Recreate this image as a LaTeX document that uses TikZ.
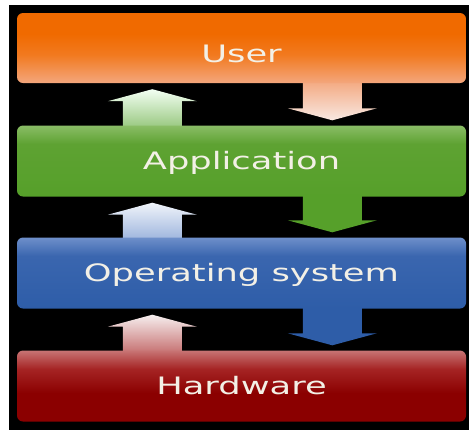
\documentclass[tikz,border=0pt]{standalone}
\usepackage{fontspec}
\setmainfont{DejaVu Sans}
\usetikzlibrary{calc}
\pgfdeclarelayer{bg}
\pgfsetlayers{bg,main}

\definecolor{uT}{HTML}{F06A00}
\definecolor{uM}{HTML}{F27A20}
\definecolor{uB}{HTML}{F3A67C}
\definecolor{aT}{HTML}{8ABD66}
\definecolor{aM}{HTML}{5EA232}
\definecolor{aB}{HTML}{56A02A}
\definecolor{oT}{HTML}{6E8FCA}
\definecolor{oM}{HTML}{3A66AF}
\definecolor{oB}{HTML}{2E5DA8}
\definecolor{hT}{HTML}{C87474}
\definecolor{hM}{HTML}{A52424}
\definecolor{hB}{HTML}{8B0000}
\definecolor{textc}{HTML}{F3F0E6}

\pgfdeclareverticalshading{usershade}{100bp}{color(0bp)=(uB); color(25bp)=(uB); color(45bp)=(uM); color(60bp)=(uT); color(100bp)=(uT)}
\pgfdeclareverticalshading{appshade}{100bp}{color(0bp)=(aB); color(25bp)=(aB); color(62bp)=(aM); color(75bp)=(aT); color(100bp)=(aT)}
\pgfdeclareverticalshading{osshade}{100bp}{color(0bp)=(oB); color(25bp)=(oB); color(62bp)=(oM); color(75bp)=(oT); color(100bp)=(oT)}
\pgfdeclareverticalshading{hwshade}{100bp}{color(0bp)=(hB); color(25bp)=(hB); color(45bp)=(hB); color(62bp)=(hM); color(75bp)=(hT); color(100bp)=(hT)}

\tikzset{
  layerbox/.style={rectangle, rounded corners=6pt, minimum width=449pt,
    minimum height=71pt, inner sep=0pt, text=textc,
    font=\fontsize{24}{24}\selectfont, text height=17.5pt, text depth=0pt},
}

% up arrow from lower box #2 into upper box #1
\newcommand\uparr[3]{%
  \path[#3] ($(#2.north west)+(106,4)$) -- ($(#1.south west)+(106,18)$)
    -- ($(#1.south west)+(91,18)$) -- ($(#1.south west)+(135.5,6)$)
    -- ($(#1.south west)+(180,18)$) -- ($(#1.south west)+(165,18)$)
    -- ($(#2.north west)+(165,4)$) -- cycle;}
% down arrow from upper box #1 towards lower box #2
\newcommand\dnarr[3]{%
  \path[#3] ($(#1.south west)+(286,-4)$) -- ($(#2.north west)+(286,-17)$)
    -- ($(#2.north west)+(271,-17)$) -- ($(#2.north west)+(315.5,-5)$)
    -- ($(#2.north west)+(360,-17)$) -- ($(#2.north west)+(345,-17)$)
    -- ($(#1.south west)+(345,-4)$) -- cycle;}

\begin{document}
\begin{tikzpicture}[x=1pt,y=-1pt]
\useasboundingbox (0,0) rectangle (469,432);

\node[layerbox, shade, shading=usershade, minimum height=70pt, text height=29.5pt] (user) at (241.5,48) {\scalebox{1.47}[1]{User}};
\node[layerbox, shade, shading=appshade] (app) at (241.5,161) {\scalebox{1.47}[1]{Application}};
\node[layerbox, shade, shading=osshade] (os) at (241.5,273) {\scalebox{1.47}[1]{Operating system}};
\node[layerbox, shade, shading=hwshade] (hw) at (241.5,386) {\scalebox{1.47}[1]{Hardware}};

\begin{pgfonlayer}{bg}
  \fill[white] (0,0) rectangle (469,432);
  \fill[black] (9,5) rectangle (469,430);
  \uparr{user}{app}{top color=white!95!green, bottom color={rgb,255:red,148;green,197;blue,122}}
  \dnarr{user}{app}{top color=uB, bottom color={rgb,255:red,248;green,232;blue,226}}
  \uparr{app}{os}{top color={rgb,255:red,240;green,244;blue,250}, bottom color={rgb,255:red,154;green,178;blue,220}}
  \dnarr{app}{os}{fill=aB}
  \uparr{os}{hw}{top color={rgb,255:red,246;green,238;blue,238}, bottom color={rgb,255:red,196;green,108;blue,108}}
  \dnarr{os}{hw}{fill=oB}
\end{pgfonlayer}
\end{tikzpicture}
\end{document}
